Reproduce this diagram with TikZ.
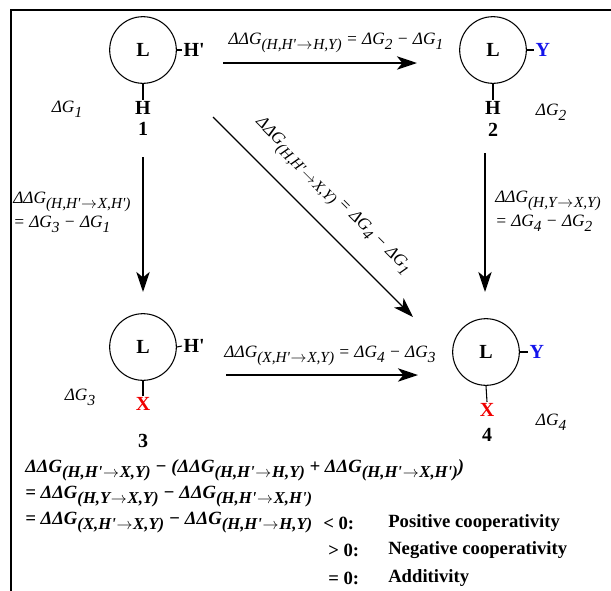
\documentclass[tikz,border=0pt]{standalone}
\usepackage{fontspec}
\setmainfont{Liberation Serif}
\usetikzlibrary{arrows.meta}
\newlength\subsz
\setlength\subsz{9pt}
\newcommand{\sbs}[1]{\raisebox{-0.6ex}{\fontsize{\subsz}{\subsz}\selectfont #1}}
\newcommand{\qp}{\textquotesingle}
\newcommand{\rar}{\kern0.5pt\ensuremath{\rightarrow}\kern0.5pt}
\definecolor{myblue}{RGB}{20,20,235}
\definecolor{myred}{RGB}{240,0,0}
\begin{document}
\begin{tikzpicture}[x=0.75pt,y=-0.75pt,
  ring/.style={circle,draw,line width=0.8pt,minimum size=50pt,inner sep=0pt,font=\fontsize{15}{17}\selectfont\bfseries},
  grp/.style={font=\fontsize{15}{17}\selectfont\bfseries,inner sep=1pt},
  num/.style={font=\fontsize{15}{17}\selectfont\bfseries,inner sep=1pt},
  tick/.style={line width=0.8pt},
  dg/.style={font=\fontsize{13}{18}\selectfont\itshape\setlength\subsz{11.5pt},inner sep=0pt},
  bot/.style={font=\fontsize{14}{18}\selectfont\bfseries\itshape\setlength\subsz{12.5pt},inner sep=0pt,anchor=west},
  botr/.style={font=\fontsize{14}{18}\selectfont\bfseries,inner sep=0pt,anchor=west},
  flow/.style={line width=1.6pt,-{Stealth[length=15pt,width=10pt,inset=4pt]}},
  thinflow/.style={line width=0.9pt,-{Stealth[length=15pt,width=10pt,inset=4pt]}}
]
\useasboundingbox (0,0) rectangle (611,590);
% frame
\draw[line width=1.5pt] (11,591) -- (11,10) -- (612,10);

% complex 1
\node[ring] (c1) at (143,50) {L};
\node[grp,anchor=west] (hp1) at (182,50) {H\qp};
\node[grp] (h1) at (143,108) {H};
\node[num] (n1) at (143,129) {1};
\node[dg] (g1) at (67,109) {ΔG\sbs{1}};
\draw[tick] (c1.east) -- (hp1.west);
\draw[tick] (c1.south) -- (h1.north);

% complex 2
\node[ring] (c2) at (493,50) {L};
\node[grp,anchor=west,text=myblue] (y2) at (534,50) {Y};
\node[grp] (h2) at (493,108) {H};
\node[num] (n2) at (493,130) {2};
\node[dg] (g2) at (551,112) {ΔG\sbs{2}};
\draw[tick] (c2.east) -- (y2.west);
\draw[tick] (c2.south) -- (h2.north);

% complex 3
\node[ring] (c3) at (143,347) {L};
\node[grp,anchor=west] (hp3) at (182,346) {H\qp};
\node[grp,text=myred] (x3) at (143,404) {X};
\node[num] (n3) at (143,441) {3};
\node[dg] (g3) at (80,397) {ΔG\sbs{3}};
\draw[tick] (c3.east) -- (hp3.west);
\draw[tick] (c3.south) -- (x3.north);

% complex 4
\node[ring] (c4) at (486,352) {L};
\node[grp,anchor=west,text=myblue] (y4) at (528,352) {Y};
\node[grp,text=myred] (x4) at (487,410) {X};
\node[num] (n4) at (487,435) {4};
\node[dg] (g4) at (551,422) {ΔG\sbs{4}};
\draw[tick] (c4.east) -- (y4.west);
\draw[tick] (c4.south) -- (x4.north);

% arrow end points
\coordinate (a12s) at (223,63);  \coordinate (a12e) at (417,63);
\coordinate (a13s) at (143,157); \coordinate (a13e) at (143,292);
\coordinate (a24s) at (485,153); \coordinate (a24e) at (485,292);
\coordinate (a14s) at (213,117); \coordinate (a14e) at (413,317);
\coordinate (a34s) at (226,375); \coordinate (a34e) at (418,375);

\draw[flow] (a12s) -- (a12e);
\draw[flow] (a13s) -- (a13e);
\draw[flow] (a24s) -- (a24e);
\draw[thinflow] (a14s) -- (a14e);
\draw[flow] (a34s) -- (a34e);

% arrow labels
\node[dg] (l12) at (336,43) {ΔΔG\sbs{(H,H\qp\rar H,Y)} = ΔG\sbs{2} − ΔG\sbs{1}};
\node[dg,align=left,anchor=west] (l13) at (13,212) {ΔΔG\sbs{(H,H\qp\rar X,H\qp)}\\= ΔG\sbs{3} − ΔG\sbs{1}};
\node[dg,align=left,anchor=west] (l24) at (495,211) {ΔΔG\sbs{(H,Y\rar X,Y)}\\= ΔG\sbs{4} − ΔG\sbs{2}};
\node[dg,rotate=-45] (l14) at (332,197) {ΔΔG\sbs{(H,H\qp\rar X,Y)} = ΔG\sbs{4} − ΔG\sbs{1}};
\node[dg] (l34) at (330,356) {ΔΔG\sbs{(X,H\qp\rar X,Y)} = ΔG\sbs{4} − ΔG\sbs{3}};

% bottom equations
\node[bot] (e1) at (25,470) {ΔΔG\sbs{(H,H\qp\rar X,Y)} − (ΔΔG\sbs{(H,H\qp\rar H,Y)} + ΔΔG\sbs{(H,H\qp\rar X,H\qp)})};
\node[bot] (e2) at (25,497) {= ΔΔG\sbs{(H,Y\rar X,Y)} − ΔΔG\sbs{(H,H\qp\rar X,H\qp)}};
\node[bot] (e3) at (25,523) {= ΔΔG\sbs{(X,H\qp\rar X,Y)} − ΔΔG\sbs{(H,H\qp\rar H,Y)}};
\node[botr] (s1) at (323,523) {< 0:};
\node[botr] (s2) at (328,550) {> 0:};
\node[botr] (s3) at (328,578) {= 0:};
\node[botr] (t1) at (388,523) {Positive cooperativity};
\node[botr] (t2) at (388,550) {Negative cooperativity};
\node[botr] (t3) at (388,578) {Additivity};
\end{tikzpicture}
\end{document}
